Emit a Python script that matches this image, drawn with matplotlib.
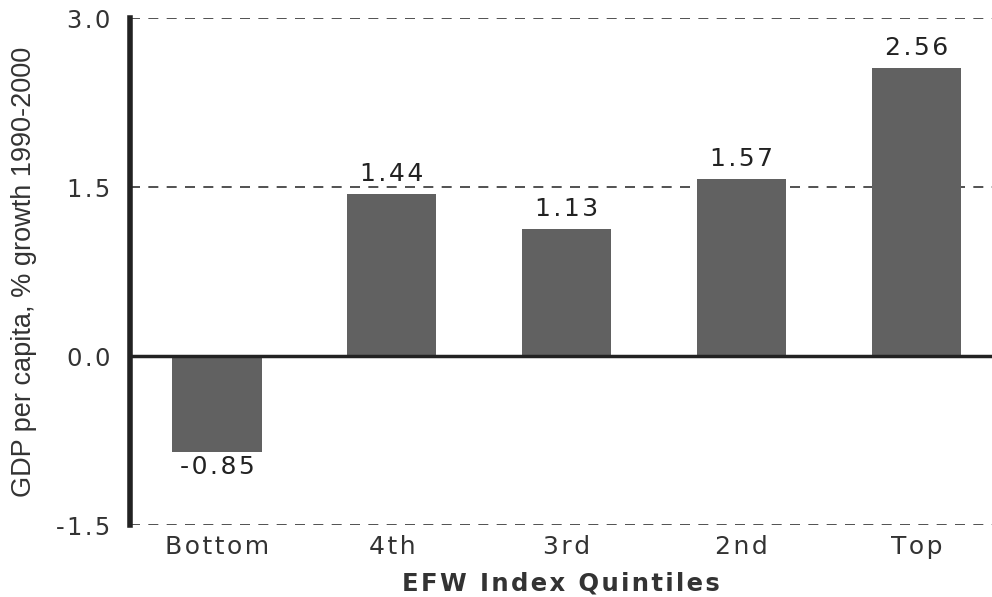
import matplotlib.pyplot as plt

quintiles = ['Bottom', '4th', '3rd', '2nd', 'Top']
growth = [-0.85, 1.44, 1.13, 1.57, 2.56]
yticks = [-1.5, 0.0, 1.5, 3.0]

HAIR = '\u200a'


def spaced(s, sep=HAIR):
    # the original font is stretched wide, add a little tracking
    return sep.join(s)


fig = plt.figure(figsize=(9.92, 5.97), dpi=100)
ax = fig.add_axes([0.131, 0.1206, 0.869, 0.8492])

x = range(len(growth))
ax.bar(x, growth, width=0.51, color='#616161', zorder=3)

for i, v in zip(x, growth):
    if v >= 0:
        ax.text(i, v + 0.07, spaced('%.2f' % v), ha='center', va='bottom', fontsize=18, color='#222222')
    else:
        ax.text(i, v - 0.03, spaced('%.2f' % v), ha='center', va='top', fontsize=18, color='#222222')

# dashed gridlines, solid zero line
for t in yticks:
    if t == 0:
        ax.axhline(t, color='#222222', lw=2.5, zorder=4)
    else:
        ax.axhline(t, color='#333333', lw=1.2, ls=(0, (6, 5)), zorder=1)

ax.set_xlim(-0.497, 4.43)
ax.set_ylim(-1.5, 3.0)
ax.set_yticks(yticks)
ax.set_yticklabels([spaced('%.1f' % t) for t in yticks], fontsize=17.5, color='#333333')
ax.set_xticks(list(x))
ax.set_xticklabels([spaced(q) for q in quintiles], fontsize=18, color='#333333')
ax.tick_params(axis='x', length=0, pad=7)
ax.tick_params(axis='y', length=0, pad=14)

for s in ['top', 'right', 'bottom']:
    ax.spines[s].set_visible(False)
ax.spines['left'].set_linewidth(4)
ax.spines['left'].set_color('#222222')

ax.set_xlabel(spaced('EFW Index Quintiles'), fontsize=17.5, fontweight='bold', color='#333333', labelpad=9)
ax.set_ylabel('GDP per capita, % growth 1990-2000', fontsize=19.5, color='#333333',
              family='Liberation Sans', labelpad=14)

fig.savefig('out.png', dpi=100)
